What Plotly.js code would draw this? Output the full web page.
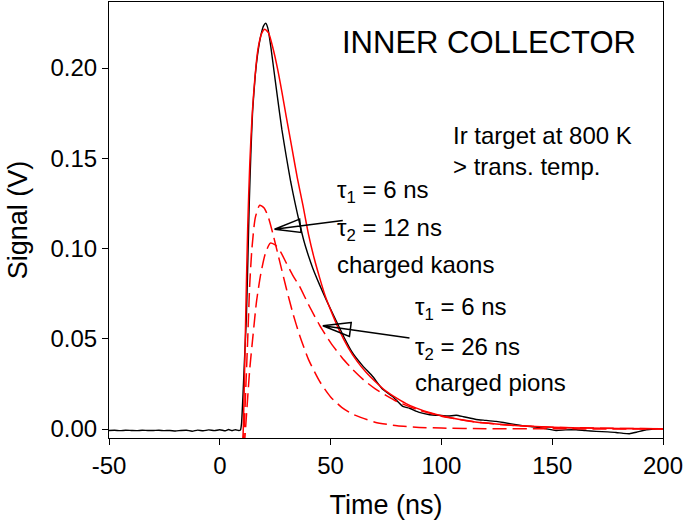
<!DOCTYPE html>
<html>
<head>
<meta charset="utf-8">
<script src="https://cdn.plot.ly/plotly-3.0.1.min.js"></script>
<style>html,body{margin:0;padding:0;background:#fff}#plot{width:685px;height:523px}</style>
</head>
<body>
<div id="plot"></div>
<script>
// Measured signal (black)
var dataT = [-50,-47.5,-45,-42.5,-40,-37.5,-35,-32.5,-30,-27.5,-25,-22.5,-20,-17.5,-15,-12.5,-10,-7.5,-5,-2.5,0,2.5,4,5.5,7,8.5,9.3,
  9.8,10.5,11.2,12.0,12.7,13.3,14.0,14.8,16.0,17.0,18.5,19.8,20.75,21.7,23.0,24.1,26.0,28.0,30.0,32.0,34.0,36.0,38.0,40.0,42.0,45.0,48.0,52.5,56.0,60.0,64.5,69.0,73.5,78.0,82.6,85.6,90.0,94.7,100,103,106.7,110,115.7,120,124.7,128,133.7,138,142.7,147,151.7,156,160.8,165,169.8,175,178.8,182,184.9,188,192.4,196,200];
var dataV = [-0.0008,-0.0007,-0.0009,-0.0007,-0.0008,-0.0009,-0.0007,-0.0008,-0.0008,-0.0007,-0.0009,-0.0008,-0.0011,-0.0008,-0.0007,-0.0012,-0.0006,-0.0010,-0.0005,-0.0009,-0.0004,-0.0010,-0.0003,-0.0009,-0.0004,-0.0008,-0.0006,
  0.003,0.020,0.040,0.062,0.095,0.125,0.152,0.176,0.196,0.207,0.218,0.2235,0.2248,0.222,0.212,0.2017,0.184,0.166,0.151,0.137,0.125,0.1140,0.104,0.096,0.089,0.080,0.0716,0.060,0.051,0.042,0.035,0.0291,0.022,0.018,0.0125,0.0115,0.0092,0.0079,0.0075,0.0072,0.0076,0.0068,0.0053,0.0048,0.0042,0.0036,0.0024,0.0016,0.0011,0.0002,-0.0008,-0.0005,-0.0004,-0.0009,-0.0013,-0.0016,-0.0019,-0.0024,-0.0026,-0.0018,-0.0004,0.0000,0.0002];

// Total fit (solid red)
var fitT = [10.2,10.6,11.3,12.0,12.6,13.5,15.1,17.3,19.0,20.3,22.0,24.0,26.0,28.0,30.0,32.5,35.0,37.5,40.0,42.5,45.0,47.5,50.0,54.0,58.0,62.0,66.0,70.0,75.0,80.0,85.0,90.0,95.0,100,110,120,130,140,150,165,180,200];
var fitV = [-0.01,0.0,0.039,0.080,0.112,0.146,0.183,0.211,0.2195,0.2215,0.2195,0.211,0.200,0.187,0.173,0.156,0.139,0.124,0.108,0.095,0.084,0.074,0.066,0.0545,0.045,0.0375,0.0315,0.0265,0.021,0.017,0.0135,0.011,0.009,0.0073,0.0049,0.0033,0.0022,0.0015,0.0010,0.0005,0.0003,0.0001];

// Kaon component (dashed red): tau1 = 6 ns, tau2 = 12 ns
var kaonT = [10.6,11.0,11.8,12.6,13.5,14.5,16,18,20,22,24,27,30,33,36,40,45,50,55,60,70,80,90,100,120,150,200];
var kaonV = [-0.01,0.0,0.025,0.050,0.080,0.100,0.117,0.124,0.1225,0.117,0.108,0.093,0.078,0.064,0.052,0.0386,0.0265,0.0178,0.0120,0.0082,0.0038,0.0018,0.0009,0.0005,0.0002,0.0001,0.0];

// Pion component (dashed red): tau1 = 6 ns, tau2 = 26 ns
var pionT = [11.0,11.6,12.5,13.5,15,16.6,18.5,20.5,22.8,25,27.5,30,33,36,40,45,50,55,60,65,70,80,90,100,115,130,150,175,200];
var pionV = [-0.01,0.0,0.016,0.033,0.052,0.071,0.086,0.097,0.103,0.102,0.098,0.092,0.085,0.079,0.069,0.0576,0.0479,0.0398,0.0329,0.0271,0.0224,0.0152,0.0104,0.0071,0.0040,0.0022,0.0010,0.0004,0.0001];

var xTicks = [-50,0,50,100,150,200];
var yTicks = [0.00,0.05,0.10,0.15,0.20];

var FONT = '"Liberation Sans", Arial, sans-serif';

var traces = [
  {x: dataT, y: dataV, type: 'scatter', mode: 'lines', line: {color: '#000', width: 1.4, shape: 'spline', smoothing: 0.5}, hoverinfo: 'skip'},
  {x: fitT, y: fitV, type: 'scatter', mode: 'lines', line: {color: '#ff0000', width: 1.5, shape: 'spline', smoothing: 0.6}, hoverinfo: 'skip'},
  {x: kaonT, y: kaonV, type: 'scatter', mode: 'lines', line: {color: '#ff0000', width: 1.5, dash: '14px,6px', shape: 'spline', smoothing: 0.6}, hoverinfo: 'skip'},
  {x: pionT, y: pionV, type: 'scatter', mode: 'lines', line: {color: '#ff0000', width: 1.5, dash: '14px,6px', shape: 'spline', smoothing: 0.6}, hoverinfo: 'skip'}
];

function ann(x, y, text) {
  return {x: x, y: y, xref: 'x', yref: 'y', text: text, showarrow: false, xanchor: 'left', yanchor: 'middle',
    font: {family: FONT, size: 24, color: '#000'}};
}

var layout = {
  width: 685, height: 523,
  margin: {l: 109, r: 22, t: 2, b: 85, pad: 0},
  paper_bgcolor: '#fff', plot_bgcolor: '#fff',
  showlegend: false,
  font: {family: FONT, color: '#000'},
  xaxis: {
    range: [-50, 200], tickvals: xTicks, ticktext: xTicks.map(String),
    ticks: 'outside', ticklen: 6, tickwidth: 1, tickcolor: '#000',
    showline: true, linecolor: '#000', linewidth: 1, mirror: true,
    showgrid: false, zeroline: false,
    tickfont: {family: FONT, size: 24, color: '#000'},
    title: {text: 'Time (ns)', font: {family: FONT, size: 27, color: '#000'}, standoff: 17},
    automargin: false
  },
  yaxis: {
    range: [-0.00498, 0.2366], tickvals: yTicks, ticktext: yTicks.map(function(v){return v.toFixed(2);}),
    ticks: 'outside', ticklen: 6, tickwidth: 1, tickcolor: '#000',
    showline: true, linecolor: '#000', linewidth: 1, mirror: true,
    showgrid: false, zeroline: false,
    tickfont: {family: FONT, size: 24, color: '#000'},
    title: {text: 'Signal (V)', font: {family: FONT, size: 27, color: '#000'}, standoff: 15},
    automargin: false
  },
  annotations: [
    {x: 0.955, y: 0.908, xref: 'paper', yref: 'paper', text: 'INNER COLLECTOR', showarrow: false, xanchor: 'right', yanchor: 'middle',
      font: {family: FONT, size: 31, color: '#000'}},
    ann(104.5, 0.1625, 'Ir target at 800 K'),
    ann(104.5, 0.1455, '&gt; trans. temp.'),
    ann(52, 0.1315, 'τ<sub>1</sub> = 6 ns'),
    ann(52, 0.1105, 'τ<sub>2</sub> = 12 ns'),
    ann(52, 0.0910, 'charged kaons'),
    ann(87, 0.0670, 'τ<sub>1</sub> = 6 ns'),
    ann(87, 0.0445, 'τ<sub>2</sub> = 26 ns'),
    ann(87, 0.0255, 'charged pions')
  ],
  shapes: [
    {type: 'path', xref: 'x', yref: 'y', path: 'M 55.5 0.1155 L 24.7 0.1107 M 36.0 0.1163 L 24.7 0.1107 L 36.7 0.1089 Z',
      line: {color: '#000', width: 1.5}},
    {type: 'path', xref: 'x', yref: 'y', path: 'M 85.6 0.0504 L 46.5 0.0572 M 59.3 0.0590 L 46.5 0.0572 L 58.5 0.0513 Z',
      line: {color: '#000', width: 1.5}}
  ]
};

Plotly.newPlot('plot', traces, layout, {staticPlot: true, displayModeBar: false});
</script>
</body>
</html>
